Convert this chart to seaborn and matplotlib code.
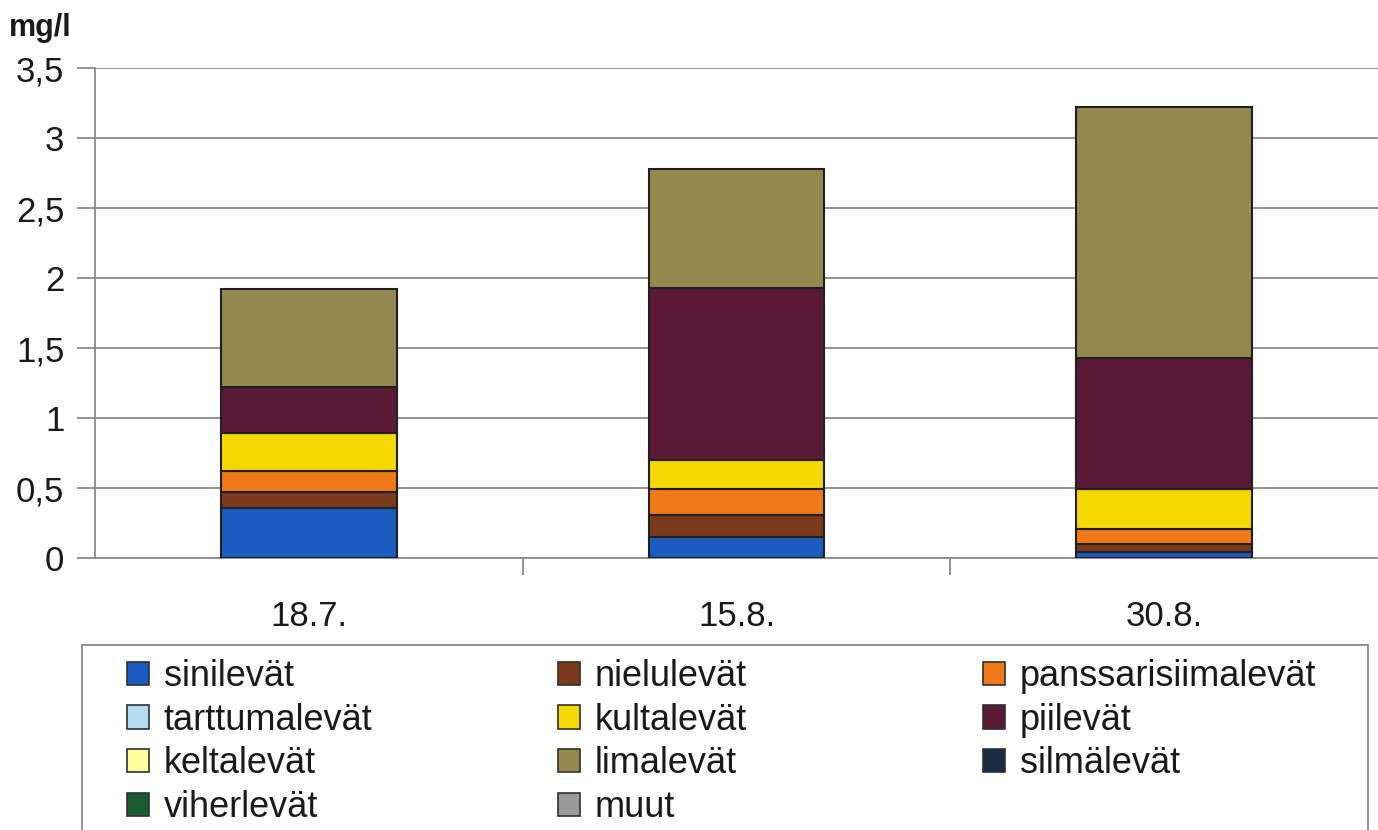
import matplotlib
matplotlib.use("Agg")
import matplotlib.pyplot as plt
import seaborn as sns
import numpy as np
from matplotlib.patches import Patch, Rectangle

dates = ["18.7.", "15.8.", "30.8."]
groups = ["sinilevät", "nielulevät", "panssarisiimalevät", "tarttumalevät",
          "kultalevät", "piilevät", "keltalevät", "limalevät", "silmälevät",
          "viherlevät", "muut"]
sinilevat = [0.36, 0.15, 0.04]
nielulevat = [0.11, 0.16, 0.06]
panssarisiimalevat = [0.15, 0.18, 0.11]
tarttumalevat = [0.0, 0.0, 0.0]
kultalevat = [0.27, 0.21, 0.28]
piilevat = [0.33, 1.23, 0.94]
keltalevat = [0.0, 0.0, 0.0]
limalevat = [0.70, 0.85, 1.79]
silmalevat = [0.0, 0.0, 0.0]
viherlevat = [0.0, 0.0, 0.0]
muut = [0.0, 0.0, 0.0]
yticks = [0, 0.5, 1, 1.5, 2, 2.5, 3, 3.5]
ytick_labels = ["0", "0,5", "1", "1,5", "2", "2,5", "3", "3,5"]

series = [sinilevat, nielulevat, panssarisiimalevat, tarttumalevat, kultalevat,
          piilevat, keltalevat, limalevat, silmalevat, viherlevat, muut]
colors = ["#1a5cc0", "#7a3a1c", "#f07a18", "#b4dcf0", "#f5d800", "#5a1a35",
          "#ffffa0", "#948a50", "#1a2a40", "#1a5a30", "#9a9a9a"]

sns.set_theme(style="white")
plt.rcParams['font.family'] = ['Liberation Sans', 'DejaVu Sans']

W, H = 1378, 830
fig = plt.figure(figsize=(W/100, H/100), dpi=100)
ax = fig.add_axes([95/W, 1-558/H, 1-95/W, (558-68)/H])

bottom = np.zeros(len(dates))
for name, vals, col in zip(groups, series, colors):
    v = np.array(vals)
    if v.sum() > 0:
        sns.barplot(x=dates, y=v, bottom=bottom, color=col, width=0.41,
                    edgecolor="#202020", linewidth=1.5, ax=ax, zorder=3,
                    saturation=1)
    bottom = bottom + v

ax.set_ylim(0, 3.5)
ax.set_xlim(-0.5, 2.5)
ax.set_yticks(yticks)
ax.set_yticklabels(ytick_labels, fontsize=25, color="#1a1a1a")
ax.yaxis.grid(True, color="#8a8a8a", linewidth=1.3, zorder=0)
ax.set_axisbelow(True)
ax.tick_params(axis='y', length=13, color="#8a8a8a", width=1.3, left=True, pad=9)
ax.tick_params(axis='x', labelsize=25, labelcolor="#1a1a1a", length=0, pad=30)
ax.set_xticks([0.5, 1.5], minor=True)
ax.tick_params(axis='x', which='minor', length=12, color="#8a8a8a", width=1.3, bottom=True)
for s in ["top", "right"]:
    ax.spines[s].set_visible(False)
for s in ["left", "bottom"]:
    ax.spines[s].set_color("#8a8a8a")
    ax.spines[s].set_linewidth(1.3)
ax.set_xlabel("")
ax.set_ylabel("")
fig.text(9/W, 1-28/H, "mg/l", fontsize=22, fontweight="bold", va="center", ha="left",
         color="#1a1a1a")

# legend frame
fig.add_artist(Rectangle((82/W, -0.01), (1368-82)/W, 1-645/H + 0.01,
                         transform=fig.transFigure, fill=False,
                         edgecolor="#8a8a8a", linewidth=1.3))

# legend columns (row-major reading across 3 columns)
col_items = [[0, 3, 6, 9], [1, 4, 7, 10], [2, 5, 8]]
col_x = [127, 558, 983]
for xs, idxs in zip(col_x, col_items):
    handles = [Patch(facecolor=colors[i], edgecolor="#303030", linewidth=1.2) for i in idxs]
    labels = [groups[i] for i in idxs]
    leg = fig.legend(handles, labels, loc="upper left",
                     bbox_to_anchor=(xs/W, 1-659/H),
                     fontsize=26, frameon=False,
                     handlelength=0.62, handleheight=0.62, handletextpad=0.4,
                     labelspacing=0.24, borderpad=0, borderaxespad=0)
    for t in leg.get_texts():
        t.set_color("#1a1a1a")

fig.savefig("out.png", dpi=100)
